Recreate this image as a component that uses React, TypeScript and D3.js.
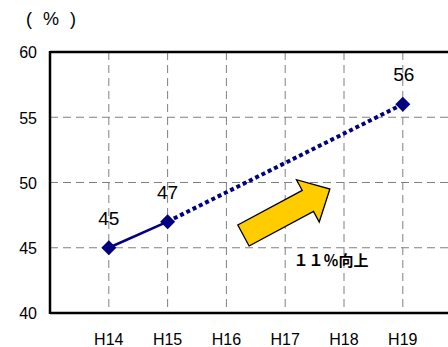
import React from "react";
import * as d3 from "d3";

const categories = ["H14", "H15", "H16", "H17", "H18", "H19"];
const actualValues: [string, number][] = [["H14", 45], ["H15", 47]];
const targetValues: [string, number][] = [["H15", 47], ["H19", 56]];
const pointLabels: [string, number][] = [["H14", 45], ["H15", 47], ["H19", 56]];
const yTicks = [40, 45, 50, 55, 60];
const unitLabel = ["(", "%", ")"];
const arrowFrom = { i: 2.29, v: 45.94 };
const arrowTo = { i: 3.76, v: 49.5 };
const noteText = "１１％向上";
const noteAt = { i: 3.78, v: 44.05 };

const W = 448, H = 347;
const left = 50, top = 52, bottom = 313;
const step = 58.8;

export default function App() {
  const xi = d3.scaleLinear().domain([-1, 0]).range([left, left + step]);
  const x = (c: string) => xi(categories.indexOf(c));
  const y = d3.scaleLinear().domain([40, 60]).range([bottom, top]);
  const line = d3.line<[string, number]>().x((d) => x(d[0])).y((d) => y(d[1]));

  const t = [xi(arrowFrom.i), y(arrowFrom.v)];
  const tip = [xi(arrowTo.i), y(arrowTo.v)];
  const dx = tip[0] - t[0], dy = tip[1] - t[1];
  const len = Math.hypot(dx, dy);
  const ux = dx / len, uy = dy / len, nx = -uy, ny = ux;
  const sw = 11.9, hw = 24, hl = 25;
  const b = [tip[0] - ux * hl, tip[1] - uy * hl];
  const pts = [
    [t[0] + nx * sw, t[1] + ny * sw],
    [b[0] + nx * sw, b[1] + ny * sw],
    [b[0] + nx * hw, b[1] + ny * hw],
    tip,
    [b[0] - nx * hw, b[1] - ny * hw],
    [b[0] - nx * sw, b[1] - ny * sw],
    [t[0] - nx * sw, t[1] - ny * sw],
  ];

  const font = "Arial, 'Liberation Sans', 'Noto Sans CJK JP', sans-serif";

  return (
    <svg width={W} height={H} style={{ position: "absolute", left: 0, top: 0, background: "#fff" }} fontFamily={font}>
      <rect width={W} height={H} fill="#fff" />
      {yTicks.filter((v) => v !== 40 && v !== 60).map((v) => (
        <line key={v} x1={left} x2={W} y1={y(v)} y2={y(v)} stroke="#808080" strokeWidth={1} strokeDasharray="8,5" />
      ))}
      {categories.map((c) => (
        <line key={c} x1={x(c)} x2={x(c)} y1={top} y2={bottom} stroke="#808080" strokeWidth={1} strokeDasharray="8,5" />
      ))}
      <line x1={left} x2={W} y1={top} y2={top} stroke="#000" strokeWidth={2.5} />
      <line x1={left} x2={W} y1={bottom} y2={bottom} stroke="#000" strokeWidth={2.5} />
      <line x1={left} x2={left} y1={top - 1} y2={bottom + 1} stroke="#000" strokeWidth={2.5} />
      {yTicks.map((v) => (
        <text key={v} x={37} y={y(v)} dy="0.4em" textAnchor="end" fontSize={16} fill="#000">{v}</text>
      ))}
      {categories.map((c) => (
        <text key={c} x={x(c)} y={345} textAnchor="middle" fontSize={16} fill="#000">{c}</text>
      ))}
      {unitLabel.map((s, k) => (
        <text key={k} x={29 + k * 22} y={25} textAnchor="middle" fontSize={18} fill="#000">{s}</text>
      ))}
      <polygon points={pts.map((p) => p.join(",")).join(" ")} fill="#FFCC00" stroke="#000" strokeWidth={1.3} strokeLinejoin="miter" />
      <text x={xi(noteAt.i)} y={y(noteAt.v)} dy="0.36em" textAnchor="middle" fontSize={15} fontWeight="bold" fill="#000">{noteText}</text>
      <path d={line(targetValues) || ""} fill="none" stroke="#000080" strokeWidth={4} strokeDasharray="4,3" />
      <path d={line(actualValues) || ""} fill="none" stroke="#000080" strokeWidth={2.5} />
      {pointLabels.map(([c, v]) => (
        <path key={c} d={`M${x(c)},${y(v) - 7.5}L${x(c) + 7.5},${y(v)}L${x(c)},${y(v) + 7.5}L${x(c) - 7.5},${y(v)}Z`} fill="#000080" />
      ))}
      {pointLabels.map(([c, v]) => (
        <text key={c} x={x(c) + (c === "H19" ? 1 : 0)} y={y(v) - 23} textAnchor="middle" fontSize={19} fill="#000">{v}</text>
      ))}
    </svg>
  );
}
